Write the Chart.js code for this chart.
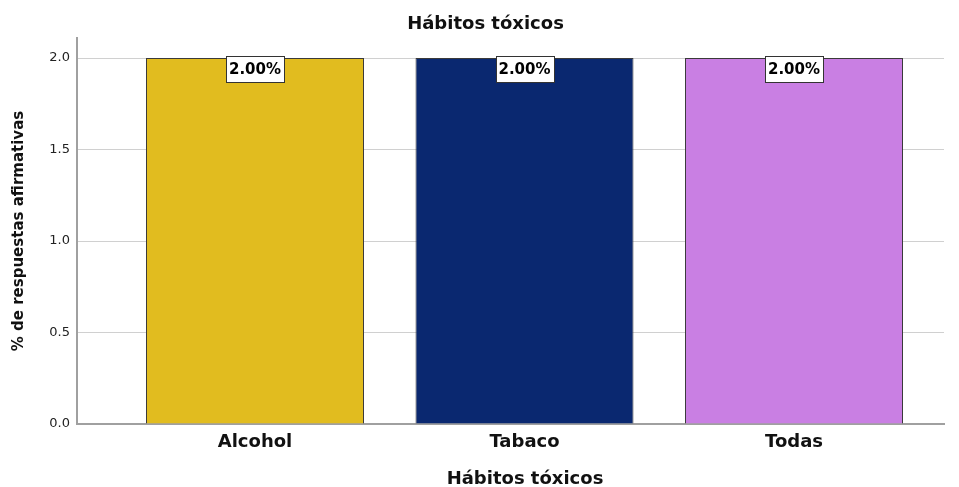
<!DOCTYPE html>
<html>
<head>
<meta charset="utf-8">
<script src="https://cdn.jsdelivr.net/npm/chart.js@4.4.4/dist/chart.umd.min.js"></script>
<style>
  html, body { margin: 0; padding: 0; background: #fff; }
  #wrap { width: 959px; height: 487px; }
</style>
</head>
<body>
<div id="wrap"><canvas id="chart"></canvas></div>
<script>
const categories = ["Alcohol", "Tabaco", "Todas"]
const values = [2, 2, 2]
const barColors = ["#E1BC1F", "#0A2870", "#C97FE3"]
const yTicks = [0, 0.5, 1.0, 1.5, 2.0]
const xTitle = "Hábitos tóxicos"

const FONT = "'DejaVu Sans', 'Liberation Sans', sans-serif"

// white boxed value label hanging from the top of each bar
const valueLabels = {
    id: "valueLabels",
    afterDatasetsDraw(chart) {
        const ctx = chart.ctx
        const meta = chart.getDatasetMeta(0)
        ctx.save()
        ctx.font = "bold 15px " + FONT
        ctx.textAlign = "center"
        ctx.textBaseline = "middle"
        meta.data.forEach((bar, i) => {
            const text = values[i].toFixed(2) + "%"
            const w = Math.round(ctx.measureText(text).width) + 6
            const h = 26
            const x = Math.round(bar.x - w / 2) + 0.5
            const y = Math.round(bar.y) - 1.5
            ctx.fillStyle = "#fff"
            ctx.fillRect(x, y, w, h)
            ctx.strokeStyle = "#333"
            ctx.lineWidth = 1
            ctx.strokeRect(x, y, w, h)
            ctx.fillStyle = "#000"
            ctx.fillText(text, bar.x, y + h / 2 + 1)
        })
        ctx.restore()
    }
}

// category axis title, sits a bit right of the plot centre
const xAxisTitle = {
    id: "xAxisTitle",
    afterDraw(chart) {
        const ctx = chart.ctx
        ctx.save()
        ctx.font = "bold 18px " + FONT
        ctx.fillStyle = "#111"
        ctx.textAlign = "center"
        ctx.textBaseline = "middle"
        ctx.fillText(xTitle, chart.chartArea.left + 448, chart.height - 8)
        ctx.restore()
    }
}

new Chart(document.getElementById("chart"), {
    type: "bar",
    data: {
        datasets: [{
            data: values.map((v, i) => ({ x: i, y: v })),
            backgroundColor: barColors,
            borderColor: "#3a3a3a",
            borderWidth: 1,
            barPercentage: 0.809,
            categoryPercentage: 1
        }]
    },
    options: {
        responsive: true,
        maintainAspectRatio: false,
        animation: false,
        layout: { padding: { left: 27, right: 15, top: 0, bottom: 0 } },
        plugins: {
            legend: { display: false },
            tooltip: { enabled: false },
            title: {
                display: true,
                text: "Hábitos tóxicos",
                color: "#111",
                font: { family: FONT, size: 18, weight: "bold" },
                padding: { top: 14, bottom: 2.4 }
            }
        },
        scales: {
            x: {
                type: "linear",
                offset: false,
                min: -0.6605,
                max: 2.5566,
                grid: { display: false, drawTicks: false, offset: false },
                border: { display: true, color: "#a0a0a0", width: 2 },
                afterBuildTicks(scale) {
                    scale.ticks = categories.map((c, i) => ({ value: i }))
                },
                ticks: {
                    color: "#111",
                    padding: 8,
                    autoSkip: false,
                    maxRotation: 0,
                    font: { family: FONT, size: 18, weight: "bold" },
                    callback: v => categories[v]
                },
                afterFit(scale) { scale.height = 63 }
            },
            y: {
                min: 0,
                max: 2.11,
                grid: { color: "#d0d0d0", lineWidth: 1, drawTicks: false },
                border: { display: true, color: "#a0a0a0", width: 2 },
                afterBuildTicks(scale) {
                    scale.ticks = yTicks.map(v => ({ value: v }))
                },
                ticks: {
                    color: "#222",
                    padding: 7,
                    font: { family: FONT, size: 13 },
                    callback: v => Number(v).toFixed(1)
                },
                title: {
                    display: true,
                    text: "% de respuestas afirmativas",
                    color: "#111",
                    font: { family: FONT, size: 15, weight: "bold" },
                    padding: { top: -17, bottom: 0 }
                },
                afterFit(scale) { scale.width = 50 }
            }
        }
    },
    plugins: [valueLabels, xAxisTitle]
})
</script>
</body>
</html>
